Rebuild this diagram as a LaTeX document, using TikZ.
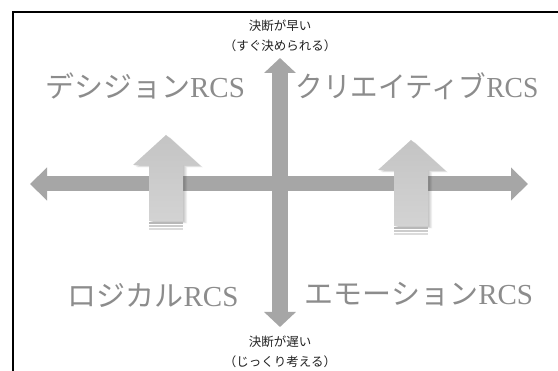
\documentclass[tikz,border=0pt]{standalone}
\usepackage{fontspec}
\setmainfont{Liberation Serif}
\newfontfamily\jp{Noto Sans CJK JP}
\usetikzlibrary{arrows.meta}
\definecolor{axisgray}{HTML}{A6A6A6}
\definecolor{labelgray}{HTML}{8C8C8C}
\definecolor{arrowfill}{HTML}{D3D3D3}
\definecolor{arrowtop}{HTML}{C4C4C4}
\definecolor{textdark}{HTML}{222222}
\begin{document}
\begin{tikzpicture}[x=1pt,y=-1pt,
  haxis/.style={draw=axisgray, line width=15pt,
    {Triangle[width=32pt,length=17pt]}-{Triangle[width=32pt,length=17pt]}},
  vaxis/.style={draw=axisgray, line width=16pt,
    {Triangle[width=31pt,length=15pt]}-{Triangle[width=31pt,length=15pt]}},
  small/.style={text=textdark, font=\jp\fontsize{12.5}{14}\selectfont, inner sep=0pt},
  quad/.style={text=labelgray, font=\fontsize{29}{31}\selectfont, inner sep=0pt},
  uparr/.pic={
    \foreach \i in {1,...,4}{
      \fill[black, opacity=0.06, shift={(\i,0.6*\i)}]
        (0,0) -- (33,30) -- (17,30) -- (17,86) -- (-17,86) -- (-17,30) -- (-33,30) -- cycle;
    }
    \foreach \yy/\cc in {88/28, 91/20, 94/14}{
      \draw[black!\cc, line width=1.2pt] (-17,\yy) -- (17,\yy);
    }
    \shade[top color=arrowtop, bottom color=arrowfill]
      (0,0) -- (33,30) -- (17,30) -- (17,86) -- (-17,86) -- (-17,30) -- (-33,30) -- cycle;
  }]
\useasboundingbox (0,0) rectangle (558,371);
\fill[white] (0,0) rectangle (558,371);
% frame
\draw[line width=2pt, black] (12.5,371) -- (12.5,12.5) -- (558,12.5);
% axes
\coordinate (hl) at (30,184);
\coordinate (hr) at (528,184);
\coordinate (vt) at (280,58);
\coordinate (vb) at (280,327);
\draw[haxis] (hl) -- (hr);
\draw[vaxis] (vb) -- (vt);
% block arrows
\pic at (166,135) {uparr};
\pic at (411,140) {uparr};
% axis labels
\node[small] (fast1) at (280,26) {決断が早い};
\node[small] (fast2) at (280,46) {（すぐ決められる）};
\node[small] (slow1) at (280,342) {決断が遅い};
\node[small] (slow2) at (280,362) {（じっくり考える）};
% quadrant labels
\node[quad] (decision) at (145,86) {{\jp デシジョン}RCS};
\node[quad] (creative) at (417,86) {\scalebox{0.95}[1]{{\jp クリエイティブ}RCS}};
\node[quad] (logical) at (153,295) {{\jp ロジカル}RCS};
\node[quad] (emotion) at (419,294) {{\jp エモーション}RCS};
\end{tikzpicture}
\end{document}
